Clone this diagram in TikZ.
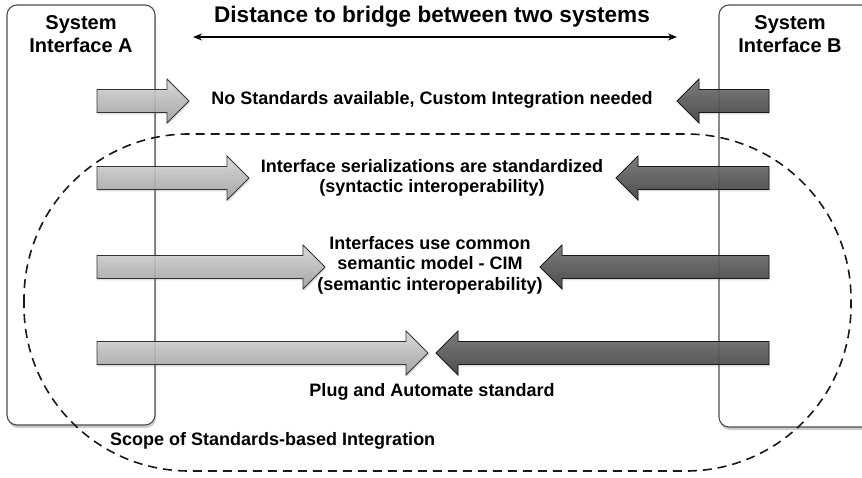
\documentclass[tikz,border=0pt]{standalone}
\usepackage{fontspec}
\setmainfont{Liberation Sans}
\usetikzlibrary{arrows.meta,shadows}
\tikzset{
  sysbox/.style={fill=white, draw=black!70, line width=1.1pt, rounded corners=10pt,
    drop shadow={opacity=0.4, shadow xshift=1pt, shadow yshift=-3pt}},
  lightarrow/.style={top color=black!15, bottom color=black!38, draw=black!80, line width=0.8pt,
    fill opacity=0.88, drop shadow={opacity=0.25, shadow xshift=1pt, shadow yshift=-2pt}},
  darkarrow/.style={top color=black!55, bottom color=black!76, draw=black!90, line width=0.8pt,
    fill opacity=0.9, drop shadow={opacity=0.25, shadow xshift=1pt, shadow yshift=-2pt}},
  scope/.style={draw=black!90, line width=1.6pt, dash pattern=on 9pt off 6pt, rounded corners=165pt},
  lbl/.style={font=\bfseries\fontsize{18}{20.5}\selectfont, align=center, inner sep=0pt},
  title/.style={font=\bfseries\fontsize{20}{23}\selectfont, align=center, inner sep=0pt},
}
% right-pointing arrow: tail x, tip x, y, style
\newcommand\rarrowshape[4]{%
  \path[#4] (#1,#3-11.5) -- (#2-22,#3-11.5) -- (#2-22,#3-22) -- (#2,#3) -- (#2-22,#3+22)
    -- (#2-22,#3+11.5) -- (#1,#3+11.5) -- cycle;}
% left-pointing arrow: tail x, tip x, y, style
\newcommand\larrowshape[4]{%
  \path[#4] (#1,#3-11.5) -- (#2+22,#3-11.5) -- (#2+22,#3-22) -- (#2,#3) -- (#2+22,#3+22)
    -- (#2+22,#3+11.5) -- (#1,#3+11.5) -- cycle;}
\begin{document}
\begin{tikzpicture}[x=1pt,y=-1pt]
\useasboundingbox (0,0) rectangle (862,478);
\clip (0,0) rectangle (862,478);
% system boxes
\path[sysbox] (7,5) rectangle (155,425);
\path[sysbox] (719,5) rectangle (890,427);
\node[title] (tA) at (81,34) {System\\Interface A};
\node[title] (tB) at (790,34) {System\\Interface B};
% scope
\path[scope] (24,134) rectangle (851,471);
% distance
\coordinate (dL) at (193,37);
\coordinate (dR) at (677,37);
\draw[{Stealth[length=9pt,width=7pt]}-{Stealth[length=9pt,width=7pt]}, line width=1.3pt] (dL) -- (dR);
\node[title, font=\bfseries\fontsize{22.6}{25}\selectfont] (dist) at (432,17) {Distance to bridge between two systems};
% arrows
\rarrowshape{97}{189}{101}{lightarrow}
\larrowshape{769}{677}{101}{darkarrow}
\rarrowshape{97}{249}{178}{lightarrow}
\larrowshape{769}{616}{178}{darkarrow}
\rarrowshape{97}{325}{267}{lightarrow}
\larrowshape{769}{540}{267}{darkarrow}
\rarrowshape{97}{428}{353}{lightarrow}
\larrowshape{769}{436}{353}{darkarrow}
% labels
\node[lbl] (l1) at (432,100) {No Standards available, Custom Integration needed};
\node[lbl] (l2) at (432,178) {Interface serializations are standardized\\(syntactic interoperability)};
\node[lbl] (l3) at (430,265) {Interfaces use common\\semantic model - CIM\\(semantic interoperability)};
\node[lbl] (l4) at (432,392) {Plug and Automate standard};
\node[lbl, anchor=west] (l5) at (110,441) {Scope of Standards-based Integration};
\end{tikzpicture}
\end{document}
